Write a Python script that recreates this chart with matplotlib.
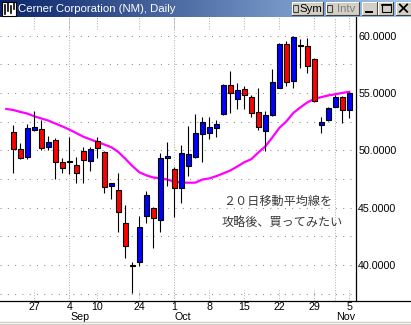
import numpy as np
import matplotlib
matplotlib.use("Agg")
import matplotlib.pyplot as plt
import matplotlib.transforms as mtransforms
from matplotlib.colors import LinearSegmentedColormap
from matplotlib.patches import Rectangle

# -----------------------------------------------------
# DATA (Cerner Corporation, daily, Aug 22 - Nov 5)
# -----------------------------------------------------
opens = [51.60, 50.12, 49.42, 51.80, 51.86, 50.29, 50.90, 48.98, 49.07, 48.72,
         49.94, 49.07, 50.82, 49.86, 46.89, 46.54, 43.66, 40.00, 40.26, 44.27,
         44.97, 43.92, 49.33, 48.37, 46.72, 48.63, 49.42, 51.43, 51.51, 51.95,
         53.17, 55.70, 54.48, 55.35, 54.65, 53.35, 51.69, 53.08, 55.44, 59.28,
         56.05, 59.15, 59.10, 57.97, 52.21, 52.65, 53.78, 54.65, 53.52]
highs = [52.21, 50.64, 52.30, 53.43, 52.65, 51.25, 51.08, 49.33, 51.16, 49.42,
         50.29, 50.29, 51.16, 49.94, 47.15, 48.02, 45.23, 40.26, 44.27, 46.45,
         45.06, 49.77, 50.73, 48.55, 50.47, 52.12, 53.17, 52.91, 52.91, 52.65,
         55.79, 56.92, 55.87, 55.61, 54.83, 55.44, 53.43, 57.10, 59.36, 59.54,
         59.97, 59.71, 59.80, 58.05, 52.91, 53.75, 54.83, 54.74, 55.09]
lows = [48.05, 49.25, 49.25, 51.69, 50.03, 50.03, 47.50, 48.02, 47.94, 47.15,
        47.15, 48.20, 49.33, 46.28, 45.76, 42.88, 40.61, 37.56, 39.91, 43.66,
        41.48, 42.88, 46.89, 44.19, 45.41, 47.76, 49.30, 48.98, 50.99, 51.16,
        53.08, 53.26, 53.61, 53.61, 52.91, 51.78, 49.94, 53.00, 55.40, 55.61,
        55.44, 57.18, 56.75, 54.22, 51.51, 52.60, 53.75, 52.39, 52.82]
closes = [50.12, 49.33, 51.95, 52.00, 50.20, 50.73, 48.98, 48.46, 48.94, 48.02,
          49.16, 50.12, 50.20, 46.80, 47.15, 44.62, 41.66, 39.87, 43.31, 46.11,
          44.10, 49.33, 49.51, 46.72, 49.77, 49.68, 51.51, 52.47, 52.04, 52.30,
          55.70, 55.00, 55.26, 54.83, 53.26, 52.04, 53.08, 55.96, 59.28, 55.96,
          59.89, 59.06, 57.36, 54.30, 52.47, 53.69, 54.65, 53.52, 55.00]

# 20-day moving average as drawn (starts one bar before the first visible candle)
ma20 = [53.61, 53.52, 53.35, 53.21, 52.97, 52.78, 52.60, 52.34, 52.09, 51.81,
        51.51, 51.19, 50.96, 50.73, 50.51, 50.27, 49.86, 49.27, 48.64, 48.09,
        47.82, 47.63, 47.56, 47.46, 47.27, 47.19, 47.18, 47.18, 47.45, 47.55,
        47.75, 47.99, 48.24, 48.59, 48.96, 49.23, 49.81, 50.34, 51.12, 51.95,
        52.52, 53.26, 53.74, 54.18, 54.48, 54.64, 54.79, 54.89, 55.01, 55.11]

day_idx = [3, 8, 12, 18, 23, 28, 33, 38, 43, 48]
day_labels = ["27", "4", "10", "24", "1", "8", "15", "22", "29", "5"]
month_idx = [8, 23, 46]
month_labels = ["Sep", "Oct", "Nov"]
price_ticks = [40, 45, 50, 55, 60]
grid_levels = [37.5, 40, 42.5, 45, 47.5, 50, 52.5, 55, 57.5, 60]

title = "Cerner Corporation (NM), Daily"
note_lines = ["２０日移動平均線を", "攻略後、買ってみたい"]

# -----------------------------------------------------
# FIGURE
# -----------------------------------------------------
plt.rcParams["font.family"] = ["Liberation Sans", "Noto Sans CJK JP"]
W, H = 411, 325
fig = plt.figure(figsize=(W / 100, H / 100), dpi=100)
fig.patch.set_facecolor("white")

ax = fig.add_axes([0, (H - 301) / H, 356 / W, (301 - 17) / H])
ov = fig.add_axes([0, 0, 1, 1])
ov.set_xlim(0, W)
ov.set_ylim(H, 0)
ov.axis("off")
ov.patch.set_alpha(0)

x = np.arange(len(opens))
ax.set_xlim(-1.9, 48.96)
ax.set_ylim(36.86, 61.63)

# grid
for lv in grid_levels:
    ax.axhline(lv, color="#8c8c8c", lw=0.75, ls=(0, (1, 6)), zorder=1)
for m in month_idx:
    ax.axvline(m, color="#b4b4b4", lw=0.75, ls=(0, (1, 1.5)), zorder=1)
for d in day_idx:
    ax.axvline(d, ymin=0.958, ymax=1, color="#b4b4b4", lw=0.75, ls=(0, (1, 1.5)), zorder=1)
    ax.axvline(d, ymin=0, ymax=0.04, color="#b4b4b4", lw=0.75, ls=(0, (1, 1.5)), zorder=1)

# moving average
ax.plot(np.arange(-1, len(ma20) - 1), ma20, color="#ff00ff", lw=1.6, zorder=2)

# candles
o = np.array(opens)
c = np.array(closes)
up = c >= o
ax.vlines(x, lows, highs, color="black", lw=0.8, zorder=3)
ax.bar(x, np.abs(c - o), bottom=np.minimum(o, c), width=0.66,
       color=np.where(up, "#0000ff", "#ff0000"), edgecolor="black", lw=0.8, zorder=4)

# axes styling
for s in ["left", "top", "bottom"]:
    ax.spines[s].set_visible(False)
ax.spines["right"].set_linewidth(0.9)
ax.yaxis.tick_right()
ax.set_yticks(price_ticks, [f"{v:.4f}" for v in price_ticks])
ax.tick_params(axis="y", length=0, pad=1.5, labelsize=7.7)
ax.set_xticks([])

# x labels
tr = mtransforms.blended_transform_factory(ax.transData, ov.transData)
for d, lab in zip(day_idx, day_labels):
    ax.text(d, 307.5, lab, transform=tr, ha="center", va="center", fontsize=7.7)
for m, lab in zip(month_idx, month_labels):
    ax.text(m + 0.1, 317.5, lab, transform=tr, ha="left", va="center", fontsize=7.7)

# note
ov.text(223, 201.7, note_lines[0], ha="left", va="center", fontsize=8.7,
        color="#383838", family=["Noto Sans CJK JP"])
ov.text(222, 222.7, note_lines[1], ha="left", va="center", fontsize=8.7,
        color="#383838", family=["Noto Sans CJK JP"])

# -----------------------------------------------------
# WINDOW CHROME
# -----------------------------------------------------
ov.plot([0, W], [301, 301], color="black", lw=0.9)
ov.plot([0, W], [322, 322], color="#d4d0c8", lw=1)
ov.plot([0, W], [324.5, 324.5], color="#d4d0c8", lw=1.5)

cmap = LinearSegmentedColormap.from_list("bar", ["#0a246a", "#a6caf0"])
ov.imshow(np.linspace(0, 1, 256).reshape(1, -1), cmap=cmap, aspect="auto",
          extent=(0, W, 17, 0), zorder=0)
ov.set_xlim(0, W)
ov.set_ylim(H, 0)

# icon
ov.add_patch(Rectangle((1.5, 1.5), 14, 14, facecolor="white", edgecolor="black", lw=0.8))
for xi, y0, y1 in [(5, 5, 14), (8, 3, 11), (11, 6, 13), (13.5, 3, 9)]:
    ov.plot([xi, xi], [y0, y1], color="black", lw=1.2)
ov.text(18, 9, title, color="white", fontsize=8.2, ha="left", va="center")


def button(x0, x1, y0=1.7, y1=15.2):
    ov.add_patch(Rectangle((x0, y0), x1 - x0, y1 - y0, facecolor="#d4d0c8", edgecolor="none"))
    ov.plot([x0, x1, x1, x0], [y1, y1, y0, y0], color="#404040", lw=0.8)
    ov.plot([x0, x0, x1 - 1], [y1 - 1, y0, y0], color="white", lw=0.8)


button(291.7, 323.3)
button(325.7, 359)
button(361.7, 377.3)
button(378.3, 393.3)
button(396.3, 410.8)
for bx in [293.3, 327.3]:
    ov.add_patch(Rectangle((bx, 4.5), 5, 7, facecolor="#d4d0c8", edgecolor="#404040", lw=0.8))
ov.text(310.5, 8.6, "Sym", fontsize=8.2, ha="center", va="center", color="black")
ov.text(346.5, 8.6, "Intv", fontsize=8.2, ha="center", va="center", color="#808080")
ov.plot([365.5, 372], [12, 12], color="black", lw=1.4)
ov.add_patch(Rectangle((381.5, 4), 9, 8, facecolor="none", edgecolor="black", lw=0.8))
ov.plot([381.5, 390.5], [4.6, 4.6], color="black", lw=1.2)
ov.plot([399.8, 407.2], [4.5, 11.8], color="black", lw=1.3)
ov.plot([399.8, 407.2], [11.8, 4.5], color="black", lw=1.3)

fig.savefig("out.png", dpi=100)
